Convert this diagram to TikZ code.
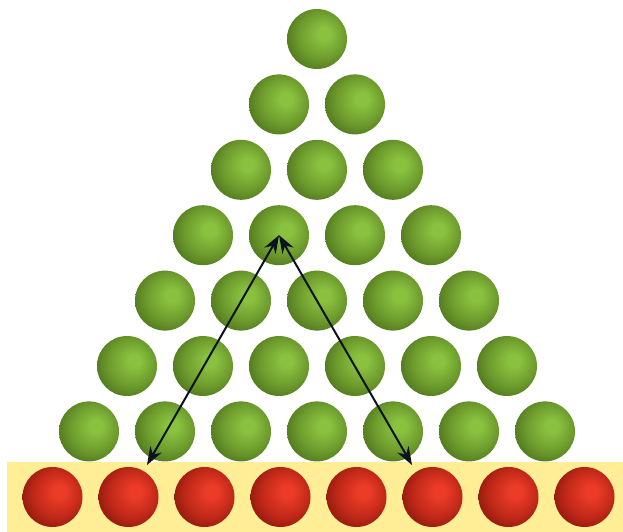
\documentclass[tikz,border=0pt]{standalone}
\usetikzlibrary{arrows.meta}
\definecolor{gl}{RGB}{138,194,64}
\definecolor{gm}{RGB}{108,154,44}
\definecolor{gd}{RGB}{72,108,26}
\definecolor{rl}{RGB}{236,60,40}
\definecolor{rm}{RGB}{192,40,24}
\definecolor{rd}{RGB}{128,22,12}
\definecolor{band}{RGB}{255,238,150}
\definecolor{arr}{RGB}{12,18,30}
\pgfdeclareradialshading{greenball}{\pgfqpoint{6.5bp}{5bp}}{color(0bp)=(gl); color(5bp)=(gl); color(20bp)=(gm); color(33bp)=(gd); color(50bp)=(gd)}
\pgfdeclareradialshading{redball}{\pgfqpoint{6.5bp}{5bp}}{color(0bp)=(rl); color(5bp)=(rl); color(20bp)=(rm); color(33bp)=(rd); color(50bp)=(rd)}
\tikzset{
  gball/.style={circle, minimum size=60pt, inner sep=0pt, shading=greenball},
  rball/.style={circle, minimum size=60pt, inner sep=0pt, shading=redball},
  link/.style={arr, line width=2pt, {Stealth[length=18pt,width=13pt,inset=6pt]}-{Stealth[length=18pt,width=13pt,inset=6pt]}}
}
\begin{document}
\begin{tikzpicture}[x=1pt,y=-1pt]
\useasboundingbox (0,0) rectangle (623,532);
\fill[band] (7,462) rectangle (623,532);
\foreach \i in {0,...,6}{
  \foreach \j in {0,...,\i}{
    \node[gball] (g\i\j) at ({317-38*\i+76*\j},{39+65.4*\i}) {};
  }
}
\foreach \j in {0,...,7}{
  \node[rball] (r\j) at ({51+76*\j+1.5},497) {};
}
\coordinate (pl) at (147,465);
\coordinate (pr) at (412,465);
\draw[link] (g31.center) -- (pl);
\draw[link] (g31.center) -- (pr);
\end{tikzpicture}
\end{document}
